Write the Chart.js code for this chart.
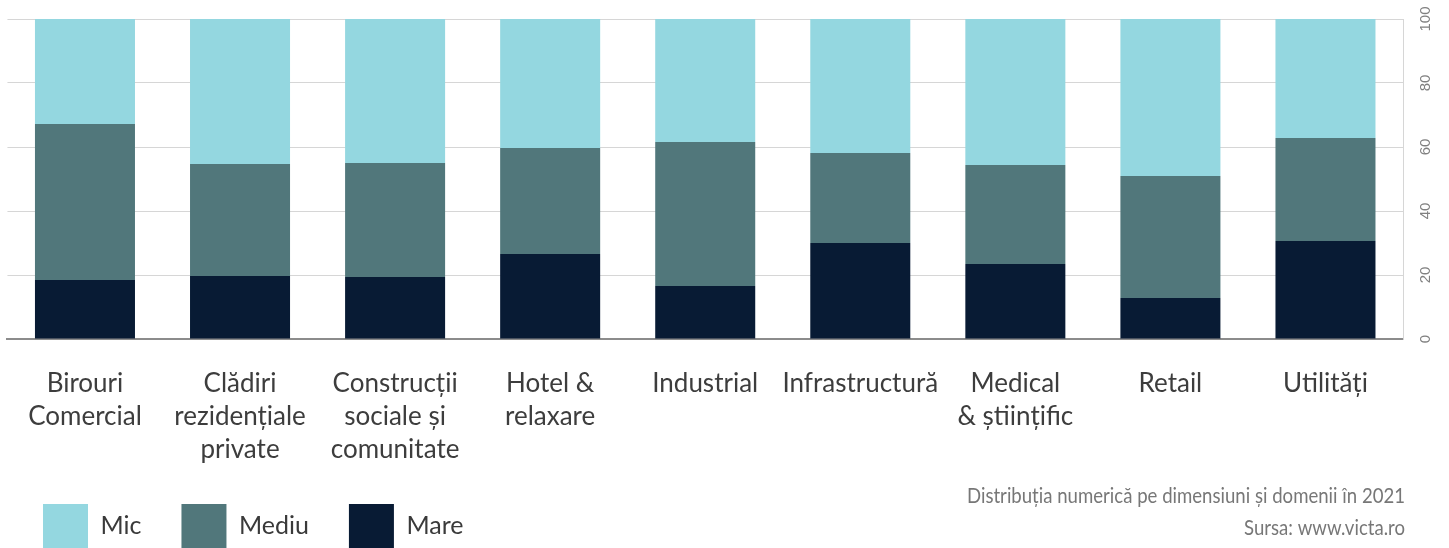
<!DOCTYPE html>
<html>
<head>
<meta charset="utf-8">
<script src="https://cdn.jsdelivr.net/npm/chart.js@4/dist/chart.umd.min.js"></script>
<style>
  html, body { margin: 0; padding: 0; background: #fff; }
  #wrap { width: 1449px; height: 548px; }
</style>
</head>
<body>
<div id="wrap"><canvas id="chart" width="1449" height="548"></canvas></div>
<script>
const categories = [
    ['Birouri', 'Comercial'],
    ['Clădiri', 'rezidențiale', 'private'],
    ['Construcții', 'sociale și', 'comunitate'],
    ['Hotel &', 'relaxare'],
    ['Industrial'],
    ['Infrastructură'],
    ['Medical', '& științific'],
    ['Retail'],
    ['Utilități']
];
const mare = [18.4, 19.7, 19.4, 26.6, 16.6, 30.0, 23.4, 12.8, 30.6];
const mediu = [48.8, 35.0, 35.6, 33.1, 45.0, 28.1, 31.0, 38.1, 32.2];
const mic = [32.8, 45.3, 45.0, 40.3, 38.4, 41.9, 45.6, 49.1, 37.2];
const yTicks = [0, 20, 40, 60, 80, 100];
const sourceLines = ['Distribuția numerică pe dimensiuni și domenii în 2021', 'Sursa: www.victa.ro'];

// the source note uses a condensed face; squeeze Lato to the same width
const sourceText = {
    id: 'sourceText',
    afterDraw(chart) {
        const ctx = chart.ctx;
        ctx.save();
        ctx.font = '22px Lato, sans-serif';
        ctx.fillStyle = '#777';
        ctx.textAlign = 'right';
        ctx.textBaseline = 'middle';
        const squeeze = 438 / ctx.measureText(sourceLines[0]).width;
        const right = chart.width - 44;
        ctx.translate(right, 0);
        ctx.scale(squeeze, 1);
        ctx.fillText(sourceLines[0], 0, 496);
        ctx.fillText(sourceLines[1], 0, 528);
        ctx.restore();
    }
};

new Chart(document.getElementById('chart'), {
    type: 'bar',
    data: {
        labels: categories,
        datasets: [
            { label: 'Mare', data: mare, backgroundColor: '#081b34' },
            { label: 'Mediu', data: mediu, backgroundColor: '#51777b' },
            { label: 'Mic', data: mic, backgroundColor: '#94d7e0' }
        ]
    },
    options: {
        responsive: false,
        animation: false,
        barPercentage: 0.645,
        categoryPercentage: 1,
        layout: { padding: { top: 10, right: 8, left: 3, bottom: -10 } },
        plugins: {
            tooltip: { enabled: false },
            legend: {
                position: 'bottom',
                align: 'start',
                reverse: true,
                labels: {
                    boxWidth: 45,
                    boxHeight: 44,
                    padding: 40,
                    color: '#3a3a3a',
                    font: { family: 'Lato', size: 25 }
                }
            }
        },
        scales: {
            x: {
                stacked: true,
                grid: { display: false, drawTicks: false },
                border: { color: '#8c8c8c', width: 2 },
                afterFit(axis) { axis.height = 125; },
                ticks: {
                    color: '#3d3d3d',
                    padding: 28,
                    maxRotation: 0,
                    autoSkip: false,
                    font: { family: 'Lato', size: 26, lineHeight: 1.27 }
                }
            },
            y: {
                stacked: true,
                position: 'right',
                min: 0,
                max: 100,
                afterBuildTicks(axis) { axis.ticks = yTicks.map(v => ({ value: v })); },
                grid: { color: '#d6d6d6', drawTicks: false },
                border: { color: '#d6d6d6' },
                ticks: {
                    color: '#808080',
                    padding: 10,
                    minRotation: 90,
                    maxRotation: 90,
                    crossAlign: 'center',
                    font: { family: '"Liberation Sans Narrow", sans-serif', size: 15 }
                }
            }
        }
    },
    plugins: [sourceText]
});
</script>
</body>
</html>
